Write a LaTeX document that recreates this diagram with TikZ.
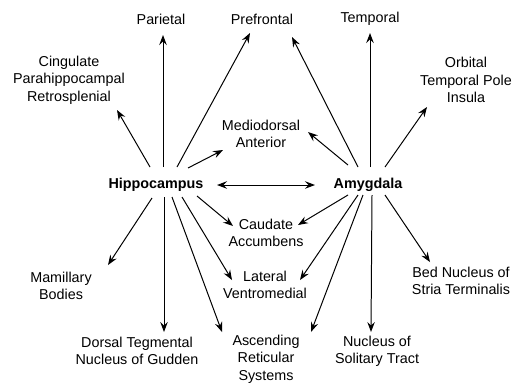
\documentclass[tikz,border=0pt]{standalone}
\usepackage{fontspec}
\setmainfont{Liberation Sans}
\usetikzlibrary{arrows.meta}

\tikzset{
  area/.style={font=\fontsize{14.4}{17.5}\selectfont,align=center,inner sep=1pt},
  hub/.style={area,font=\fontsize{14.4}{17.5}\selectfont\bfseries},
}

\begin{document}
\begin{tikzpicture}[x=1bp,y=-1bp,>={Stealth[length=10pt,width=7.5pt,inset=3.5pt]},line width=1pt]
      \useasboundingbox (0,0) rectangle (520,382);
      % centres
      \node[hub] (hip) at (156,185) {Hippocampus};
      \node[hub] (amy) at (368,185) {Amygdala};
      % cortical targets
      \node[area] (par) at (161,19) {Parietal};
      \node[area] (pre) at (262,19) {Prefrontal};
      \node[area] (tem) at (370,19) {Temporal};
      \node[area] (cin) at (69,80) {Cingulate\\Parahippocampal\\Retrosplenial};
      \node[area] (orb) at (466,80) {Orbital\\Temporal Pole\\Insula};
      \node[area] (med) at (261,134) {Mediodorsal\\Anterior};
      % subcortical targets
      \node[area] (cau) at (266,233) {Caudate\\Accumbens};
      \node[area] (lat) at (265,285) {Lateral\\Ventromedial};
      \node[area] (mam) at (61,286) {Mamillary\\Bodies};
      \node[area] (bed) at (461,281) {Bed Nucleus of\\Stria Terminalis};
      \node[area] (dor) at (137,351) {Dorsal Tegmental\\Nucleus of Gudden};
      \node[area] (asc) at (266,359) {Ascending\\Reticular\\Systems};
      \node[area] (nuc) at (377,351) {Nucleus of\\Solitary Tract};
      % hippocampal outputs
      \draw[->] ([shift={(-6,-18)}]hip.center) -- ([shift={(48,30)}]cin.center);
      \draw[->] ([shift={(7,-18)}]hip.center) -- ([shift={(2,16)}]par.center);
      \draw[->] ([shift={(21,-18)}]hip.center) -- ([shift={(-12,14)}]pre.center);
      \draw[->] ([shift={(32,-17)}]hip.center) -- ([shift={(-38,16)}]med.center);
      \draw[<->] ([shift={(61,0)}]hip.center) -- ([shift={(-53,0)}]amy.center);
      \draw[->] ([shift={(-4,13)}]hip.center) -- ([shift={(47,-21)}]mam.center);
      \draw[->] ([shift={(8,12)}]hip.center) -- ([shift={(27,-19)}]dor.center);
      \draw[->] ([shift={(16,12)}]hip.center) -- ([shift={(-44,-27)}]asc.center);
      \draw[->] ([shift={(26,12)}]hip.center) -- ([shift={(-33,-5)}]lat.center);
      \draw[->] ([shift={(41,11)}]hip.center) -- ([shift={(-33,-7)}]cau.center);
      % amygdaloid outputs
      \draw[->] ([shift={(-10,-18)}]amy.center) -- ([shift={(30,18)}]pre.center);
      \draw[->] ([shift={(2,-18)}]amy.center) -- ([shift={(0,14)}]tem.center);
      \draw[->] ([shift={(17,-18)}]amy.center) -- ([shift={(-39,27)}]orb.center);
      \draw[->] ([shift={(-20,-20)}]amy.center) -- ([shift={(47,-2)}]med.center);
      \draw[->] ([shift={(-20,10)}]amy.center) -- ([shift={(32,-8)}]cau.center);
      \draw[->] ([shift={(-10,10)}]amy.center) -- ([shift={(35,-5)}]lat.center);
      \draw[->] ([shift={(-5,10)}]amy.center) -- ([shift={(45,-27)}]asc.center);
      \draw[->] ([shift={(4,10)}]amy.center) -- ([shift={(-6,-19)}]nuc.center);
      \draw[->] ([shift={(17,10)}]amy.center) -- ([shift={(-31,-19)}]bed.center);
    \end{tikzpicture}
\end{document}
